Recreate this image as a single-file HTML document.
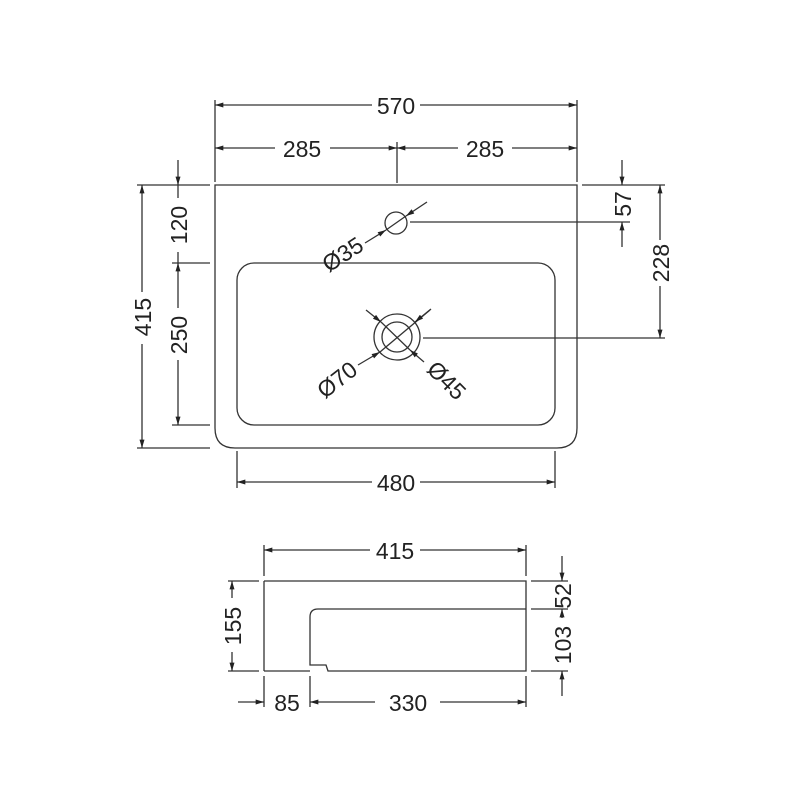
<!DOCTYPE html>
<html><head><style>body{margin:0;background:#fff}svg{display:block}</style></head><body>
<svg width="800" height="800" viewBox="0 0 800 800" xmlns="http://www.w3.org/2000/svg">
<defs>
<marker id="a" viewBox="0 0 10 6" refX="10" refY="3" markerWidth="12" markerHeight="5" orient="auto-start-reverse" markerUnits="userSpaceOnUse"><path d="M0,0 L10,3 L0,6 z" fill="#222"/></marker>
</defs>
<g stroke="#333" stroke-width="1.3" fill="none">
<path d="M215,185 H577 V428 Q577,448 557,448 H235 Q215,448 215,428 Z"/>
<rect x="237" y="263" width="318" height="162" rx="17"/>
<circle cx="396" cy="223" r="11"/>
<circle cx="397" cy="337" r="23"/>
<circle cx="397" cy="337" r="15"/>
<line x1="215" y1="100" x2="215" y2="182"/>
<line x1="577" y1="100" x2="577" y2="182"/>
<line x1="397" y1="142" x2="397" y2="183"/>
<line x1="137" y1="185" x2="210" y2="185"/>
<line x1="137" y1="448" x2="210" y2="448"/>
<line x1="172" y1="263" x2="210" y2="263"/>
<line x1="172" y1="425" x2="210" y2="425"/>
<line x1="582" y1="185" x2="665" y2="185"/>
<line x1="410" y1="222" x2="630" y2="222"/>
<line x1="423" y1="338" x2="665" y2="338"/>
<line x1="237" y1="451" x2="237" y2="488"/>
<line x1="555" y1="451" x2="555" y2="488"/>
<line x1="215" y1="105" x2="372" y2="105" marker-start="url(#a)"/>
<line x1="420" y1="105" x2="577" y2="105" marker-end="url(#a)"/>
<line x1="215" y1="148" x2="275" y2="148" marker-start="url(#a)"/>
<line x1="330" y1="148" x2="397" y2="148" marker-end="url(#a)"/>
<line x1="397" y1="148" x2="458" y2="148" marker-start="url(#a)"/>
<line x1="512" y1="148" x2="577" y2="148" marker-end="url(#a)"/>
<line x1="142" y1="185" x2="142" y2="292" marker-start="url(#a)"/>
<line x1="142" y1="344" x2="142" y2="448" marker-end="url(#a)"/>
<line x1="178" y1="160" x2="178" y2="185" marker-end="url(#a)"/>
<line x1="178" y1="185" x2="178" y2="198"/>
<line x1="178" y1="252" x2="178" y2="263"/>
<line x1="178" y1="263" x2="178" y2="308" marker-start="url(#a)"/>
<line x1="178" y1="360" x2="178" y2="425" marker-end="url(#a)"/>
<line x1="622" y1="160" x2="622" y2="185" marker-end="url(#a)"/>
<line x1="622" y1="222" x2="622" y2="247" marker-start="url(#a)"/>
<line x1="660" y1="185" x2="660" y2="240" marker-start="url(#a)"/>
<line x1="660" y1="286" x2="660" y2="338" marker-end="url(#a)"/>
<line x1="237" y1="482" x2="372" y2="482" marker-start="url(#a)"/>
<line x1="420" y1="482" x2="555" y2="482" marker-end="url(#a)"/>
<line x1="365" y1="243" x2="386" y2="230" marker-end="url(#a)"/>
<line x1="386" y1="230" x2="406" y2="216"/>
<line x1="427" y1="202" x2="406" y2="216" marker-end="url(#a)"/>
<line x1="358" y1="365" x2="380" y2="352" marker-end="url(#a)"/>
<line x1="380" y1="352" x2="430" y2="310"/>
<line x1="431" y1="309" x2="415" y2="322" marker-end="url(#a)"/>
<line x1="366" y1="310" x2="381" y2="322" marker-end="url(#a)"/>
<line x1="381" y1="322" x2="410" y2="350"/>
<line x1="424" y1="362" x2="410" y2="350" marker-end="url(#a)"/>
<path d="M264,581 H526 V671 H328 L326,665 H310 V617 Q310,609 318,609 H526"/>
<line x1="264" y1="581" x2="264" y2="671"/>
<line x1="264" y1="671" x2="310" y2="671"/>
<line x1="264" y1="545" x2="264" y2="576"/>
<line x1="526" y1="545" x2="526" y2="576"/>
<line x1="228" y1="581" x2="259" y2="581"/>
<line x1="228" y1="671" x2="259" y2="671"/>
<line x1="531" y1="581" x2="568" y2="581"/>
<line x1="531" y1="609" x2="568" y2="609"/>
<line x1="531" y1="671" x2="568" y2="671"/>
<line x1="264" y1="676" x2="264" y2="707"/>
<line x1="310" y1="676" x2="310" y2="707"/>
<line x1="526" y1="676" x2="526" y2="707"/>
<line x1="264" y1="550" x2="370" y2="550" marker-start="url(#a)"/>
<line x1="420" y1="550" x2="526" y2="550" marker-end="url(#a)"/>
<line x1="232" y1="581" x2="232" y2="598" marker-start="url(#a)"/>
<line x1="232" y1="652" x2="232" y2="671" marker-end="url(#a)"/>
<line x1="562" y1="556" x2="562" y2="581" marker-end="url(#a)"/>
<line x1="562" y1="609" x2="562" y2="618" marker-start="url(#a)"/>
<line x1="562" y1="671" x2="562" y2="696" marker-start="url(#a)"/>
<line x1="238" y1="702" x2="264" y2="702" marker-end="url(#a)"/>
<line x1="310" y1="702" x2="375" y2="702" marker-start="url(#a)"/>
<line x1="440" y1="702" x2="526" y2="702" marker-end="url(#a)"/>
</g>
<g font-family="Liberation Sans, sans-serif" font-size="23" fill="#222" text-anchor="middle">
<text x="396" y="114">570</text>
<text x="302" y="157">285</text>
<text x="485" y="157">285</text>
<text x="396" y="491">480</text>
<text transform="translate(151,317) rotate(-90)">415</text>
<text transform="translate(187,225) rotate(-90)">120</text>
<text transform="translate(187,335) rotate(-90)">250</text>
<text transform="translate(631,204) rotate(-90)">57</text>
<text transform="translate(669,263) rotate(-90)">228</text>
<text transform="translate(347,261) rotate(-33)">Ø35</text>
<text transform="translate(342,386) rotate(-38)">Ø70</text>
<text transform="translate(441,386) rotate(45)">Ø45</text>
<text x="395" y="559">415</text>
<text transform="translate(241,626) rotate(-90)">155</text>
<text transform="translate(571,596) rotate(-90)">52</text>
<text transform="translate(571,645) rotate(-90)">103</text>
<text x="287" y="711">85</text>
<text x="408" y="711">330</text>
</g>
</svg>
</body></html>
